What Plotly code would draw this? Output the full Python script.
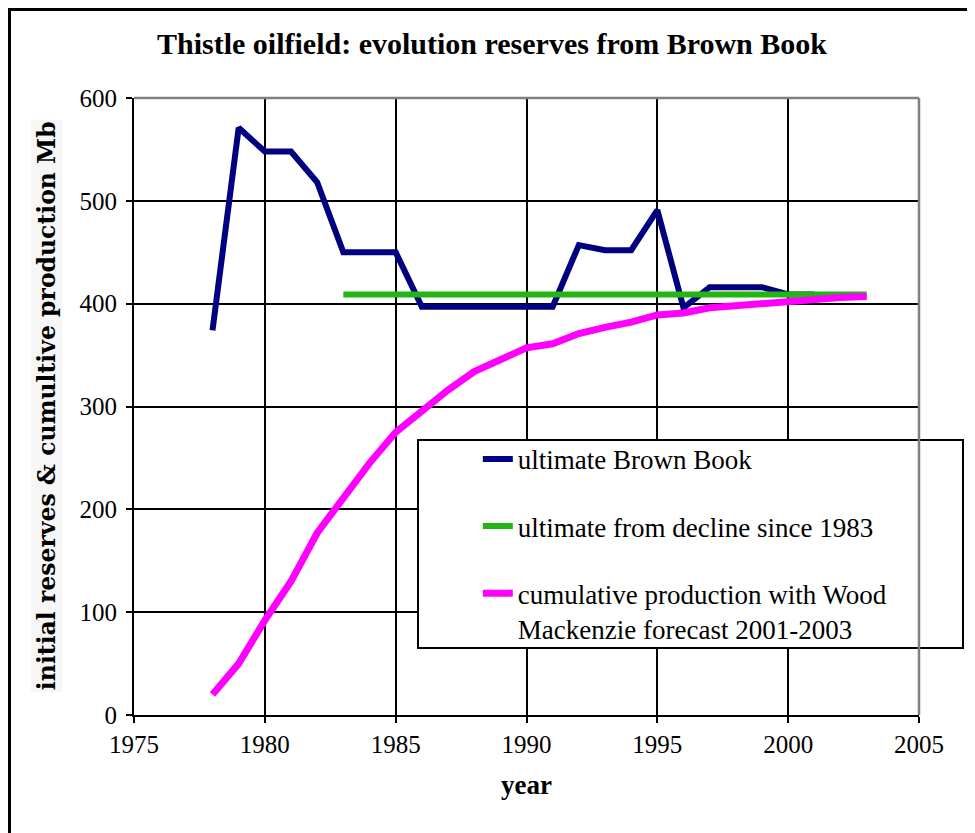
import plotly.graph_objects as go

# data
years_bb = list(range(1978, 2002))
brown_book = [374, 571, 548, 548, 518, 450, 450, 450, 397, 397, 397, 397,
              397, 397, 457, 452, 452, 491, 396, 416, 416, 416, 409, 409]

years_decl = list(range(1983, 2004))
decline = [409] * len(years_decl)

years_cum = list(range(1978, 2004))
cumulative = [20, 50, 92, 130, 177, 210, 245, 275, 296, 316, 334, 346, 357,
              361, 371, 377, 382, 389, 391, 396, 398, 400, 403, 405, 406, 407]

names = ["ultimate Brown Book",
         "ultimate from decline since 1983",
         "cumulative production with Wood<br>Mackenzie forecast 2001-2003"]

serif = "Liberation Serif, Times New Roman, serif"

# the page body adds 8px of margin, so place everything 8px up/left
OFF = 8

fig = go.Figure()

fig.add_trace(go.Scatter(x=years_bb, y=brown_book, mode="lines", name=names[0],
                         legendgroup="a",
                         line=dict(color="#000080", width=6)))
fig.add_trace(go.Scatter(x=years_decl, y=decline, mode="lines", name=names[1],
                         legendgroup="b",
                         line=dict(color="#22b514", width=6)))
fig.add_trace(go.Scatter(x=years_cum, y=cumulative, mode="lines", name=names[2],
                         legendgroup="c",
                         line=dict(color="#ff00ff", width=7)))

fig.update_xaxes(range=[1975, 2005], dtick=5, tick0=1975,
                 showgrid=True, gridcolor="black", gridwidth=2,
                 showline=True, linecolor="black", linewidth=2,
                 ticks="outside", ticklen=6, tickcolor="black", tickwidth=2,
                 tickfont=dict(family=serif, size=25, color="black"),
                 title=dict(text="<b>year</b>", standoff=18,
                            font=dict(family=serif, size=27, color="black")),
                 zeroline=False)
fig.update_yaxes(range=[0, 600], dtick=100,
                 showgrid=True, gridcolor="black", gridwidth=2,
                 showline=True, linecolor="black", linewidth=2,
                 ticks="outside", ticklen=6, tickcolor="black", tickwidth=2,
                 ticklabelstandoff=4,
                 tickfont=dict(family=serif, size=25, color="black"),
                 zeroline=False)

# y axis title with light grey box
fig.add_annotation(text="<b>initial reserves & cumultive production Mb</b>",
                   xref="paper", yref="paper", x=-0.111, y=0.502,
                   xanchor="center", yanchor="middle",
                   textangle=-90, showarrow=False, bgcolor="#f6f6f6",
                   font=dict(family="DejaVu Serif", size=23.5, color="black"))

fig.update_layout(
    width=975, height=833,
    margin=dict(l=134 - OFF, r=56 + OFF, t=98 - OFF, b=118 + OFF),
    plot_bgcolor="white", paper_bgcolor="white",
    title=dict(text="<b>Thistle oilfield: evolution reserves from Brown Book</b>",
               x=(492 - OFF) / 975, xanchor="center",
               y=1 - (43 - OFF) / 833, yanchor="middle",
               font=dict(family=serif, size=30, color="black")),
    legend=dict(x=0.438, y=0.454, xanchor="left", yanchor="top",
                bgcolor="rgba(0,0,0,0)", borderwidth=0,
                tracegroupgap=29, valign="top",
                font=dict(family=serif, size=27, color="black")),
    shapes=[
        # legend box
        dict(type="rect", xref="paper", yref="paper", layer="above",
             x0=(418 - 134) / 785, x1=(963 - 134) / 785,
             y0=(715 - 648) / 617, y1=(715 - 440) / 617,
             fillcolor="white", line=dict(color="black", width=2)),
        # grey top and right plot border
        dict(type="line", xref="paper", yref="paper", layer="above",
             x0=0, x1=1, y0=1, y1=1, line=dict(color="#808080", width=2.5)),
        dict(type="line", xref="paper", yref="paper", layer="above",
             x0=1, x1=1, y0=0, y1=1, line=dict(color="#808080", width=2.5)),
        # outer chart frame (kept just inside the figure so it is not clipped)
        dict(type="rect", xref="paper", yref="paper", layer="above",
             x0=(9.5 - 134) / 785, x1=1.2, y0=-0.4, y1=(715 - 9.5) / 617,
             line=dict(color="black", width=3)),
    ],
)

fig.write_html("out.html")
